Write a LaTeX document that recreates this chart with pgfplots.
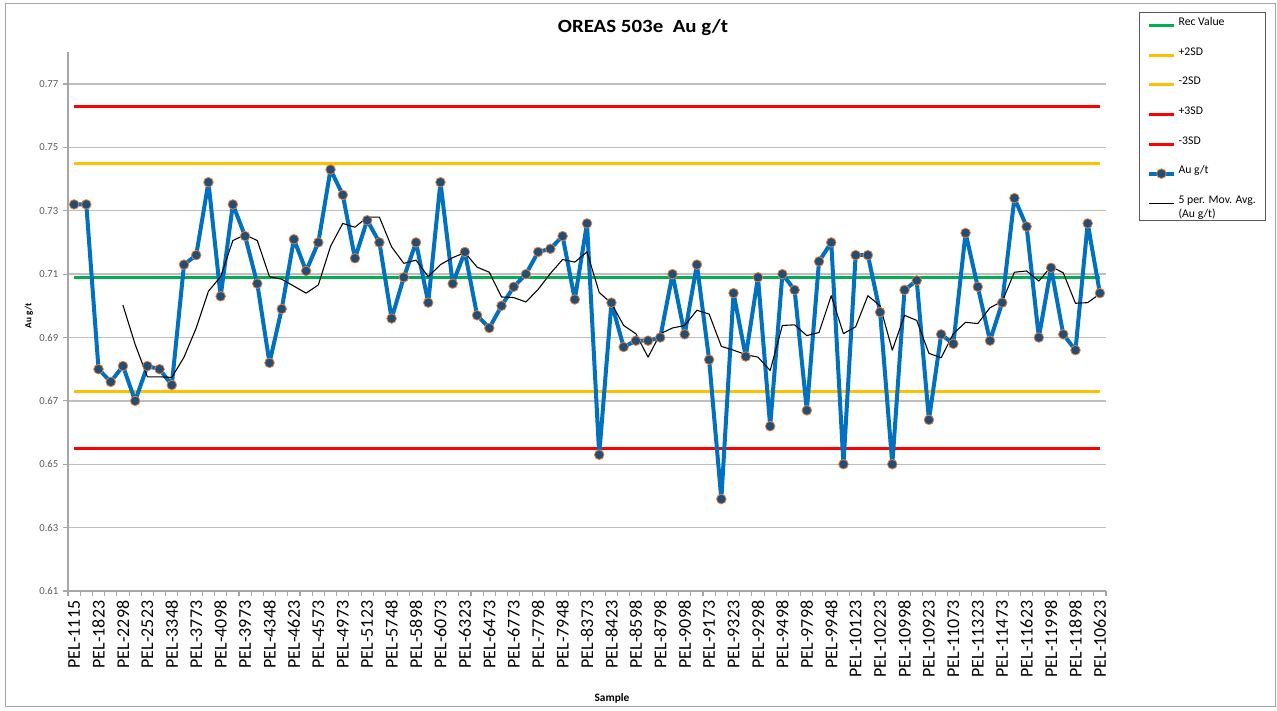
\documentclass[border=0pt]{standalone}
\usepackage{fontspec}
\setmainfont{Carlito}
\newfontfamily\titlefont[FakeStretch=1.12]{Carlito}
\usepackage{pgfplots}
\usepackage{pgfplotstable}
\pgfplotsset{compat=1.18}

\definecolor{recgreen}{HTML}{00B050}
\definecolor{sdyellow}{HTML}{FFC000}
\definecolor{sdred}{HTML}{FF0000}
\definecolor{aublue}{HTML}{0070C0}
\definecolor{markblue}{HTML}{1F4E79}
\definecolor{markedge}{HTML}{ED7D31}
\definecolor{gridgray}{HTML}{BFBFBF}
\definecolor{axisgray}{HTML}{A6A6A6}
\definecolor{labelgray}{HTML}{595959}

% Au g/t per sample (x = sample index)
\pgfplotstableread{
x au
0 0.732
1 0.732
2 0.680
3 0.676
4 0.681
5 0.670
6 0.681
7 0.680
8 0.675
9 0.713
10 0.716
11 0.739
12 0.703
13 0.732
14 0.722
15 0.707
16 0.682
17 0.699
18 0.721
19 0.711
20 0.720
21 0.743
22 0.735
23 0.715
24 0.727
25 0.720
26 0.696
27 0.709
28 0.720
29 0.701
30 0.739
31 0.707
32 0.717
33 0.697
34 0.693
35 0.700
36 0.706
37 0.710
38 0.717
39 0.718
40 0.722
41 0.702
42 0.726
43 0.653
44 0.701
45 0.687
46 0.689
47 0.689
48 0.690
49 0.710
50 0.691
51 0.713
52 0.683
53 0.639
54 0.704
55 0.684
56 0.709
57 0.662
58 0.710
59 0.705
60 0.667
61 0.714
62 0.720
63 0.650
64 0.716
65 0.716
66 0.698
67 0.650
68 0.705
69 0.708
70 0.664
71 0.691
72 0.688
73 0.723
74 0.706
75 0.689
76 0.701
77 0.734
78 0.725
79 0.690
80 0.712
81 0.691
82 0.686
83 0.726
84 0.704
}\audata

% 5 per. moving average
\pgfplotstableread{
x ma
4 0.7002
5 0.6878
6 0.6776
7 0.6776
8 0.6774
9 0.6838
10 0.6930
11 0.7046
12 0.7092
13 0.7206
14 0.7224
15 0.7206
16 0.7092
17 0.7084
18 0.7062
19 0.7040
20 0.7066
21 0.7188
22 0.7260
23 0.7248
24 0.7280
25 0.7280
26 0.7186
27 0.7134
28 0.7144
29 0.7092
30 0.7130
31 0.7152
32 0.7168
33 0.7122
34 0.7106
35 0.7028
36 0.7026
37 0.7012
38 0.7052
39 0.7102
40 0.7146
41 0.7138
42 0.7170
43 0.7042
44 0.7008
45 0.6938
46 0.6912
47 0.6838
48 0.6912
49 0.6930
50 0.6938
51 0.6986
52 0.6974
53 0.6872
54 0.6860
55 0.6846
56 0.6838
57 0.6796
58 0.6938
59 0.6940
60 0.6906
61 0.6916
62 0.7032
63 0.6912
64 0.6934
65 0.7032
66 0.7000
67 0.6860
68 0.6970
69 0.6954
70 0.6850
71 0.6836
72 0.6912
73 0.6948
74 0.6944
75 0.6994
76 0.7014
77 0.7106
78 0.7110
79 0.7078
80 0.7124
81 0.7104
82 0.7008
83 0.7010
84 0.7038
}\madata

\begin{document}
\begin{tikzpicture}
\begin{scope}[x=0.75pt,y=0.75pt]
  \useasboundingbox (0,0) rectangle (1277,710);
  \draw[color=axisgray, line width=0.75pt] (5,4) rectangle (1275,706);
  \node[font=\titlefont\bfseries\fontsize{14}{16}\selectfont] at (643,682) {OREAS 503e\ \ Au g/t};
  \node[font=\bfseries\fontsize{8.5}{10}\selectfont] at (612,12) {Sample};
  \node[font=\bfseries\fontsize{7}{8}\selectfont, rotate=90] at (29,394) {Au g/t};
\end{scope}
\begin{axis}[
  at={(51pt,89.25pt)}, anchor=south west,
  scale only axis, width=778.5pt, height=404pt,
  xmin=-0.5, xmax=84.5, ymin=0.61, ymax=0.78,
  axis x line*=bottom, axis y line*=left,
  axis line style={-, draw=axisgray, line width=1pt},
  tick align=outside,
  major tick length=3.75pt, minor tick length=3.75pt,
  xtick={0,2,...,84},
  xticklabels={PEL-1115,PEL-1823,PEL-2298,PEL-2523,PEL-3348,PEL-3773,PEL-4098,PEL-3973,PEL-4348,PEL-4623,PEL-4573,PEL-4973,PEL-5123,PEL-5748,PEL-5898,PEL-6073,PEL-6323,PEL-6473,PEL-6773,PEL-7798,PEL-7948,PEL-8373,PEL-8423,PEL-8598,PEL-8798,PEL-9098,PEL-9173,PEL-9323,PEL-9298,PEL-9498,PEL-9798,PEL-9948,PEL-10123,PEL-10223,PEL-10998,PEL-10923,PEL-11073,PEL-11323,PEL-11473,PEL-11623,PEL-11998,PEL-11898,PEL-10623},
  minor xtick={-0.5,0.5,...,84.5},
  major x tick style={draw=none},
  minor x tick style={draw=axisgray, line width=0.8pt},
  x tick label style={rotate=90, anchor=east, font=\fontsize{13.5}{15}\selectfont},
  ytick={0.61,0.63,0.65,0.67,0.69,0.71,0.73,0.75,0.77},
  y tick style={draw=axisgray, line width=0.8pt},
  ymajorgrids, major grid style={gridgray, line width=1.1pt},
  yticklabel style={font=\fontsize{8}{9}\selectfont, text=labelgray,
    /pgf/number format/fixed, /pgf/number format/precision=2,
    /pgf/number format/fixed zerofill},
  /pgf/number format/assume math mode=true,
  legend image code/.code={\draw[mark repeat=2,mark phase=2,#1]
    plot coordinates {(0pt,0pt) (9.4pt,0pt) (18.8pt,0pt)};},
  legend style={at={(1.0318,1.0748)}, anchor=north west,
    draw=labelgray, line width=0.8pt,
    font=\fontsize{8.8}{10.5}\selectfont,
    inner xsep=5.5pt, inner ysep=2pt, row sep=10.9pt,
    nodes={anchor=base west, text height=5.8pt, text depth=1.5pt}},
]
\addplot[recgreen, line width=2.25pt] coordinates {(0,0.709) (84,0.709)};
\addlegendentry{Rec Value}
\addplot[sdyellow, line width=2.25pt] coordinates {(0,0.745) (84,0.745)};
\addlegendentry{+2SD}
\addplot[sdyellow, line width=2.25pt] coordinates {(0,0.673) (84,0.673)};
\addlegendentry{-2SD}
\addplot[sdred, line width=2.25pt] coordinates {(0,0.763) (84,0.763)};
\addlegendentry{+3SD}
\addplot[sdred, line width=2.25pt] coordinates {(0,0.655) (84,0.655)};
\addlegendentry{-3SD}
\addplot[aublue, line width=3pt, line join=round, mark=*, mark size=3.6pt,
  mark options={fill=markblue, draw=markedge, line width=0.6pt}]
  table[x=x, y=au] {\audata};
\addlegendentry{Au g/t}
\addplot[black, line width=0.8pt, line join=round] table[x=x, y=ma] {\madata};
\addlegendentry[text depth=8.5pt]{\begin{tabular}[t]{@{}l@{}}5 per. Mov. Avg.\\(Au g/t)\end{tabular}}
\end{axis}
\end{tikzpicture}
\end{document}
